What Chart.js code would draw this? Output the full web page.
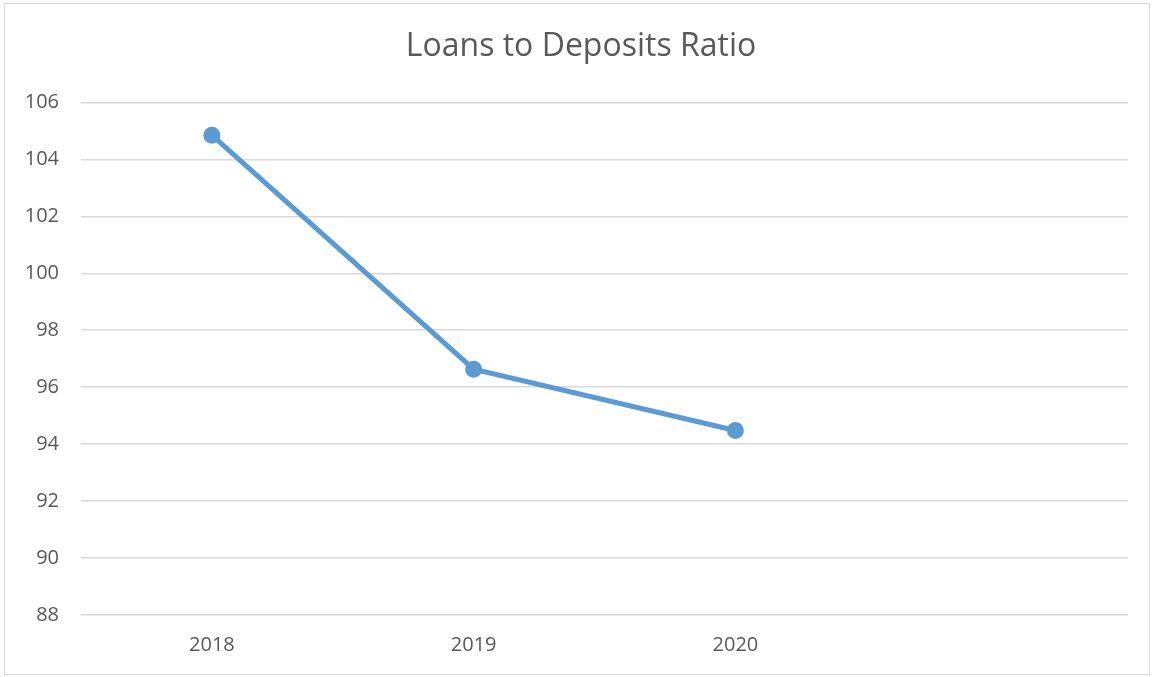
<!DOCTYPE html>
<html>
<head>
<meta charset="utf-8">
<script src="https://cdn.jsdelivr.net/npm/chart.js@4"></script>
<style>
    html, body { margin: 0; padding: 0; background: #fff; }
    #wrap { position: relative; width: 1153px; height: 677px; }
    #frame { position: absolute; left: 4px; top: 3px; width: 1146px; height: 672px; border: 1px solid #d9d9d9; box-sizing: border-box; }
    canvas { position: absolute; left: 0; top: 0; }
</style>
</head>
<body>
<div id="wrap">
    <div id="frame"></div>
    <canvas id="chart" width="1153" height="677"></canvas>
</div>
<script>
"use strict";

// chart data
const categories = ['2018', '2019', '2020', ''];
const ratioValues = [104.85, 96.63, 94.48, null];
const yTicks = [88, 90, 92, 94, 96, 98, 100, 102, 104, 106];

const FONT = "'Open Sans', 'Liberation Sans', sans-serif";
const TEXT_COLOR = '#595959';

// nudge title to be centred on the whole frame
const titleShift = {
    id: 'titleShift',
    afterLayout: (chart) => {
        if (chart.titleBlock) {
            chart.titleBlock.left += 17;
            chart.titleBlock.right += 17;
        }
    }
};

// create configuration
let config = {
    type: 'line',
    data: {
        labels: categories,
        datasets: [{
            label: 'Loans to Deposits Ratio',
            data: ratioValues,
            borderColor: '#5b9bd5',
            backgroundColor: '#5b9bd5',
            borderWidth: 5,
            pointRadius: 6,
            pointHoverRadius: 6,
            fill: false,
            tension: 0
        }]
    },
    options: {
        responsive: false,
        animation: false,
        layout: {
            padding: { left: 0, right: 25, top: 0, bottom: 0 }
        },
        plugins: {
            legend: { display: false },
            tooltip: { enabled: false },
            title: {
                display: true,
                text: 'Loans to Deposits Ratio',
                color: TEXT_COLOR,
                font: { family: FONT, size: 32, weight: 'normal' },
                padding: { top: 28, bottom: 36 }
            }
        },
        scales: {
            x: {
                offset: true,
                grid: { display: false, drawTicks: false },
                border: { display: false },
                ticks: {
                    color: TEXT_COLOR,
                    font: { family: FONT, size: 20 },
                    padding: 18
                },
                afterFit: (scale) => { scale.height = 62; }
            },
            y: {
                min: 88,
                max: 106,
                afterBuildTicks: (scale) => {
                    scale.ticks = yTicks.map(v => ({ value: v }));
                },
                grid: { color: '#d9d9d9', lineWidth: 1.5, drawTicks: false },
                border: { display: false },
                ticks: {
                    color: TEXT_COLOR,
                    font: { family: FONT, size: 20 },
                    padding: 22
                },
                afterFit: (scale) => { scale.width = 81; }
            }
        }
    },
    plugins: [titleShift]
};

// create chart
new Chart(document.getElementById('chart'), config);
</script>
</body>
</html>
